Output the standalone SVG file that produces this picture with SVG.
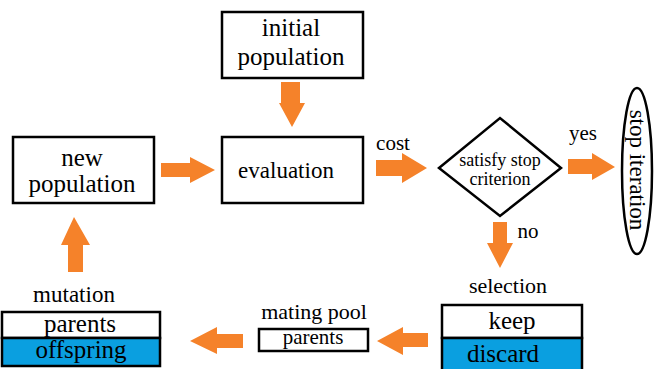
<svg xmlns="http://www.w3.org/2000/svg" width="654" height="369" viewBox="0 0 654 369">
<style>
.box{fill:#fff;stroke:#000;stroke-width:2.5}
.blue{fill:#0a9fe0;stroke:#000;stroke-width:2.5}
.arr{fill:#f5822a}
.t{font-family:"Liberation Serif",serif;fill:#000;text-anchor:middle}
.big{font-size:25px}
.mid{font-size:22px}
.sm{font-size:21px}
.dia{font-size:18px}
</style>
<rect width="654" height="369" fill="#fff"/>
<g id="connectors">
<polygon class="arr" points="281,82 300,82 300,103 305,103 292,127 279,103 281,103"/>
<polygon class="arr" points="161,163 190,163 190,157 215,170 190,183 190,177 161,177"/>
<polygon class="arr" points="376,160 402,160 402,153 427,168 402,183 402,176 376,176"/>
<polygon class="arr" points="568,159 592,159 592,153 615,167 592,180 592,174 568,174"/>
<polygon class="arr" points="493,222 507,222 507,243 513,243 500,268 487,243 493,243"/>
<polygon class="arr" points="428,333 403,333 403,327 377,341 403,355 403,347 428,347"/>
<polygon class="arr" points="243,334 217,334 217,327 190,341 217,354 217,348 243,348"/>
<polygon class="arr" points="68,272 83,272 83,245 90,245 74,217 61,245 68,245"/>
<text class="t sm" x="393" y="150">cost</text>
<text class="t sm" x="583" y="140">yes</text>
<text class="t sm" x="528" y="238">no</text>
</g>
<g id="initial-population">
<rect class="box" x="222" y="12" width="141" height="66"/>
<text class="t big" x="291" y="36">initial</text>
<text class="t big" x="291" y="65">population</text>
</g>
<g id="evaluation">
<rect class="box" x="222" y="137" width="141" height="66"/>
<text class="t" x="286" y="178" font-size="23">evaluation</text>
</g>
<g id="new-population">
<rect class="box" x="13" y="137" width="141" height="66"/>
<text class="t big" x="82" y="166">new</text>
<text class="t big" x="82" y="192">population</text>
</g>
<g id="satisfy-stop">
<polygon class="box" points="439,168 500,118 561,168 500,216"/>
<text class="t dia" x="500" y="166">satisfy stop</text>
<text class="t dia" x="500" y="185">criterion</text>
</g>
<g id="stop-iteration">
<ellipse class="box" cx="637" cy="171" rx="15" ry="83"/>
<text class="t" font-size="23" transform="translate(630,170) rotate(90)" x="0" y="0">stop iteration</text>
</g>
<g id="selection">
<text class="t mid" x="508" y="293">selection</text>
<rect class="box" x="442" y="305" width="140" height="33"/>
<rect class="blue" x="442" y="338" width="140" height="40"/>
<text class="t big" x="512" y="329">keep</text>
<text class="t big" x="503" y="362">discard</text>
</g>
<g id="mating-pool">
<text class="t mid" x="314" y="319">mating pool</text>
<rect class="box" x="259" y="329" width="109" height="22"/>
<text class="t sm" x="313" y="344">parents</text>
</g>
<g id="mutation">
<text class="t" x="74" y="302" font-size="23">mutation</text>
<rect class="box" x="2" y="312" width="158" height="26"/>
<rect class="blue" x="2" y="338" width="158" height="28"/>
<text class="t big" x="80" y="332">parents</text>
<text class="t big" x="81" y="358">offspring</text>
</g>
</svg>
